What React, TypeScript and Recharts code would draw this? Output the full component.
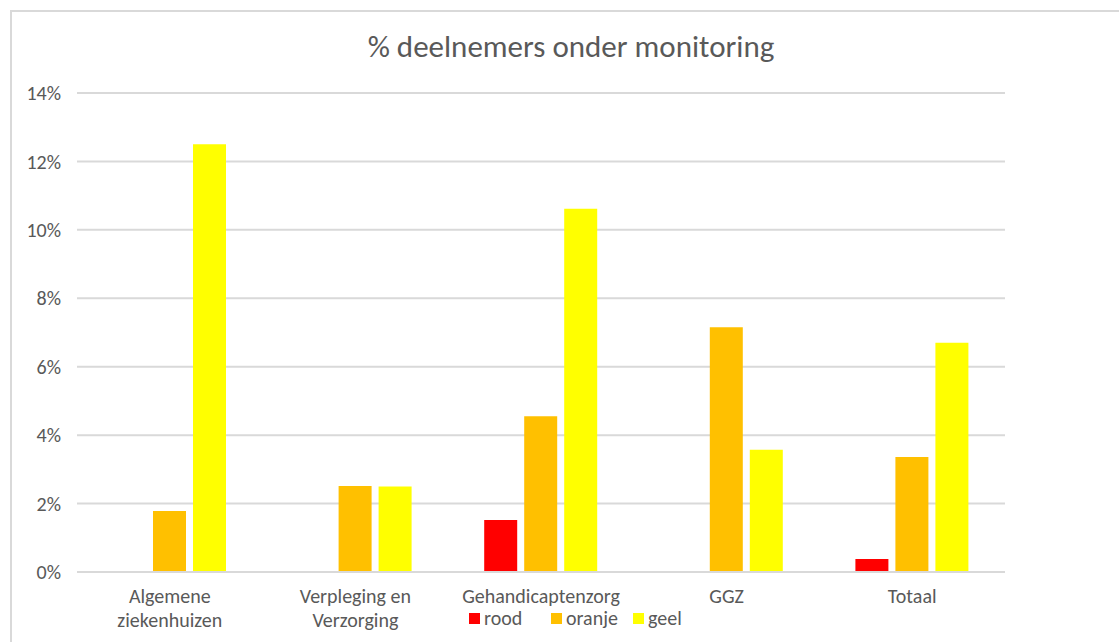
import { BarChart, Bar, XAxis, YAxis, CartesianGrid } from 'recharts';

const categories = [
  'Algemene ziekenhuizen',
  'Verpleging en Verzorging',
  'Gehandicaptenzorg',
  'GGZ',
  'Totaal',
];
const rood = [0, 0, 1.52, 0, 0.38];
const oranje = [1.78, 2.51, 4.55, 7.15, 3.36];
const geel = [12.5, 2.5, 10.62, 3.57, 6.7];
const yTicks = [0, 2, 4, 6, 8, 10, 12, 14];

const series = [
  { key: 'rood', color: '#ff0000' },
  { key: 'oranje', color: '#ffc000' },
  { key: 'geel', color: '#ffff00' },
];

const data = categories.map((name, i) => ({
  name,
  rood: rood[i],
  oranje: oranje[i],
  geel: geel[i],
}));

const FONT = 'Carlito, Calibri, "Open Sans", "Liberation Sans", sans-serif';
const TEXT = '#595959';
const GRID = '#d9d9d9';

// wrap long category names over two lines, like Excel does
function wrap(label: string, max = 14) {
  const lines: string[] = [];
  let cur = '';
  for (const w of label.split(' ')) {
    if (cur && (cur + ' ' + w).length > max) {
      lines.push(cur);
      cur = w;
    } else {
      cur = cur ? cur + ' ' + w : w;
    }
  }
  if (cur) lines.push(cur);
  return lines;
}

function CategoryTick(props: any) {
  const { x, y, payload } = props;
  const lines = wrap(payload.value);
  return (
    <text x={x} y={y} textAnchor="middle" fill={TEXT} fontSize={20} fontFamily={FONT}>
      {lines.map((l, i) => (
        <tspan key={i} x={x} dy={i === 0 ? 23 : 24}>
          {l}
        </tspan>
      ))}
    </text>
  );
}

function ChartLegend() {
  return (
    <div
      style={{
        position: 'absolute',
        left: 469,
        top: 609,
        display: 'flex',
        fontFamily: FONT,
        fontSize: 20,
        lineHeight: '18px',
        color: TEXT,
      }}
    >
      {series.map((s) => (
        <div key={s.key} style={{ display: 'flex', alignItems: 'center', gap: 4, width: 82 }}>
          <span style={{ width: 11, height: 11, background: s.color, display: 'inline-block' }} />
          <span>{s.key}</span>
        </div>
      ))}
    </div>
  );
}

export default function App() {
  return (
    <div style={{ position: 'absolute', left: 0, top: 0, width: 1119, height: 642, background: '#fff', overflow: 'hidden' }}>
      <div
        style={{
          position: 'absolute',
          left: 10,
          top: 10,
          width: 1200,
          height: 700,
          borderTop: `2px solid ${GRID}`,
          borderLeft: `2px solid ${GRID}`,
        }}
      />
      <div
        style={{
          position: 'absolute',
          left: 0,
          top: 27,
          width: 1142,
          textAlign: 'center',
          fontFamily: FONT,
          fontSize: 31,
          color: TEXT,
        }}
      >
        % deelnemers onder monitoring
      </div>
      <div style={{ position: 'absolute', left: 0, top: 0 }}>
        <BarChart
          width={1119}
          height={642}
          data={data}
          margin={{ top: 93, right: 114, bottom: 40, left: 10 }}
          barGap={7}
          barCategoryGap={36}
        >
          <CartesianGrid vertical={false} stroke={GRID} strokeWidth={2} />
          <XAxis
            dataKey="name"
            height={30}
            axisLine={{ stroke: GRID, strokeWidth: 2 }}
            tickLine={false}
            interval={0}
            tick={<CategoryTick />}
          />
          <YAxis
            width={67}
            domain={[0, 14]}
            ticks={yTicks}
            axisLine={false}
            tickLine={false}
            tickMargin={10}
            tickFormatter={(v: number) => `${v}%`}
            tick={{ fill: TEXT, fontSize: 20, fontFamily: FONT }}
          />
          {series.map((s) => (
            <Bar key={s.key} dataKey={s.key} fill={s.color} isAnimationActive={false} />
          ))}
        </BarChart>
      </div>
      <ChartLegend />
    </div>
  );
}
